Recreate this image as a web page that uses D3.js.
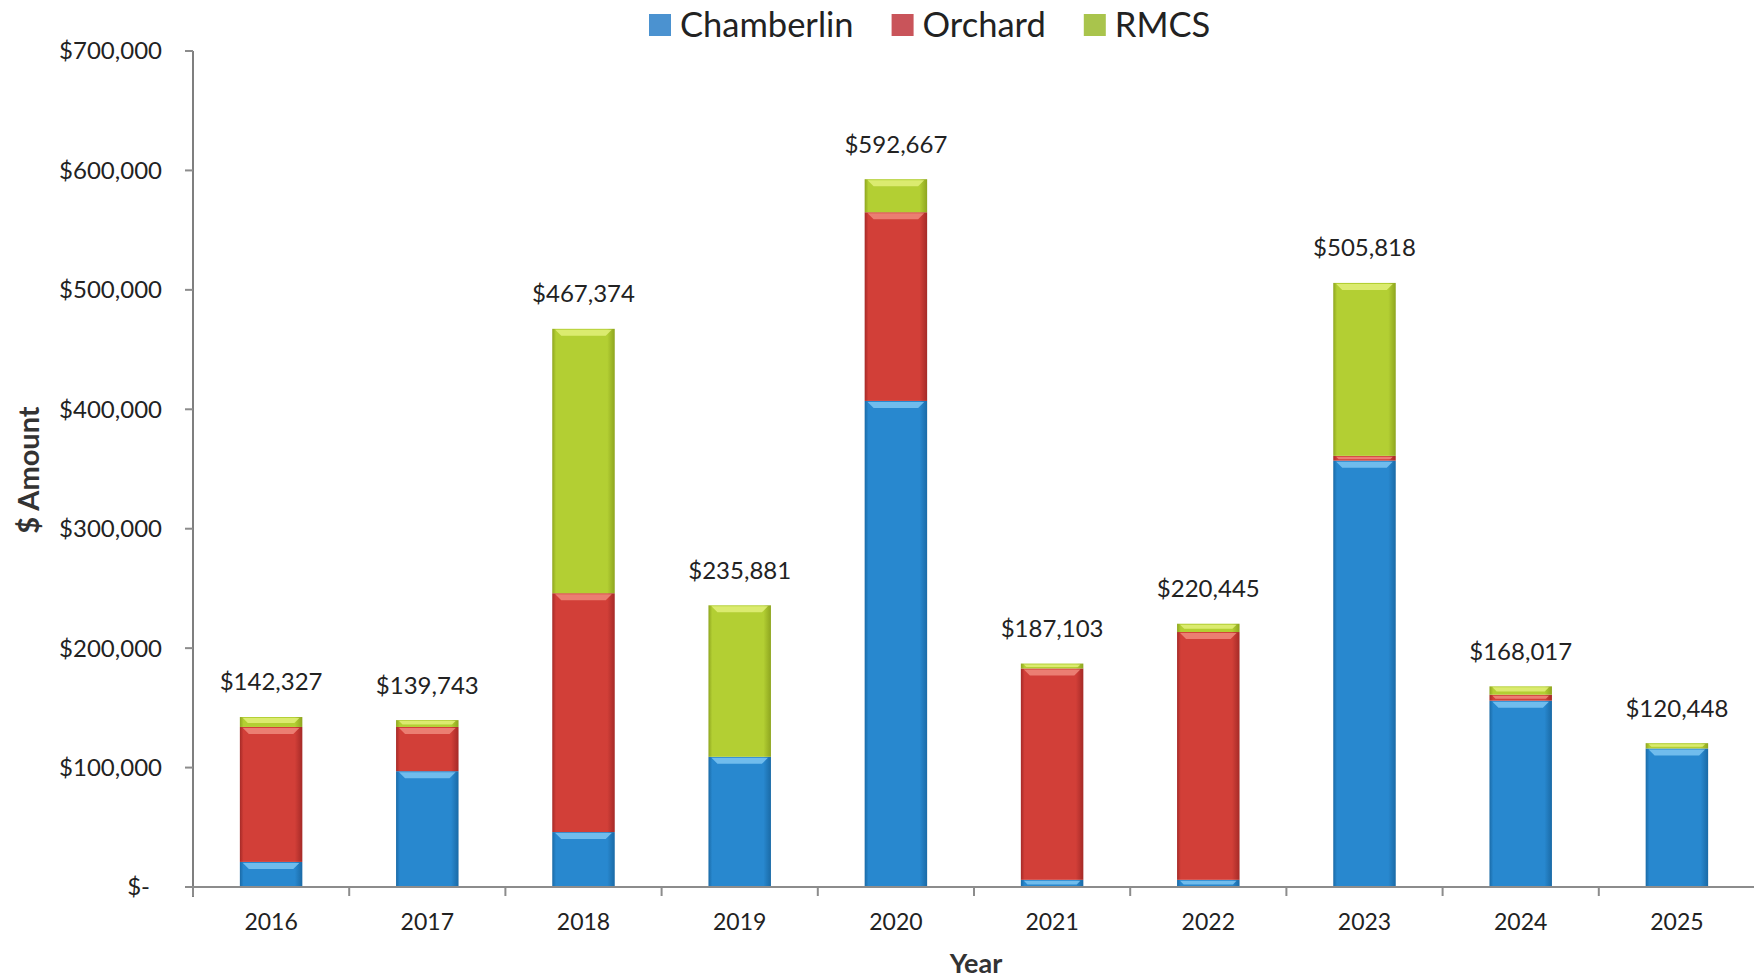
<!DOCTYPE html>
<html>
<head>
<meta charset="utf-8">
<script src="https://cdn.jsdelivr.net/npm/d3@7"></script>
<style>
    html, body { margin: 0; padding: 0; background: #ffffff; }
    svg { display: block; font-family: Lato, "Open Sans", sans-serif; }
</style>
</head>
<body>
<div id="graph"></div>
<script>
var years = ["2016", "2017", "2018", "2019", "2020", "2021", "2022", "2023", "2024", "2025"];
var chamberlin = [21000, 97000, 46000, 109000, 407000, 6000, 6000, 357000, 156000, 116000];
var orchard = [113000, 37000, 200000, 0, 158000, 177000, 207500, 4000, 5000, 0];
var rmcs = [8327, 5743, 221374, 126881, 27667, 4103, 6945, 144818, 7017, 4448];
var totals = [142327, 139743, 467374, 235881, 592667, 187103, 220445, 505818, 168017, 120448];
var yTicks = [0, 100000, 200000, 300000, 400000, 500000, 600000, 700000];

var seriesNames = ["Chamberlin", "Orchard", "RMCS"];
var seriesKeys = ["chamberlin", "orchard", "rmcs"];

var width = 1754;
var height = 979;

var barColors = {
    chamberlin: {main: "#2888cf", dark: "#1a6aa6", light: "#7cc6f2", legend: "#4b92d0"},
    orchard: {main: "#d23f38", dark: "#a52a27", light: "#f08a7c", legend: "#c9545a"},
    rmcs: {main: "#b3cf33", dark: "#8ea51f", light: "#e2f07a", legend: "#a9c44c"}
};

var table = years.map(function(yr, i) {
    return {year: yr, chamberlin: chamberlin[i], orchard: orchard[i], rmcs: rmcs[i], total: totals[i]};
});

var svg = d3.select("#graph").append("svg")
    .attr("width", width)
    .attr("height", height);

var defs = svg.append("defs");
seriesKeys.forEach(function(k) {
    var g = defs.append("linearGradient")
        .attr("id", "grad-" + k)
        .attr("x1", "0%").attr("x2", "100%")
        .attr("y1", "0%").attr("y2", "0%");
    g.append("stop").attr("offset", "0%").attr("stop-color", barColors[k].dark);
    g.append("stop").attr("offset", "6%").attr("stop-color", barColors[k].main);
    g.append("stop").attr("offset", "88%").attr("stop-color", barColors[k].main);
    g.append("stop").attr("offset", "100%").attr("stop-color", barColors[k].dark);
});

var x = d3.scaleBand()
    .domain(years)
    .range([193, 1755])
    .paddingInner(0.6)
    .paddingOuter(0.3);

var y = d3.scaleLinear()
    .domain([0, 700000])
    .range([887, 51]);

var stack = d3.stack().keys(seriesKeys);
var stacked = stack(table);

// bars
var layers = svg.append("g").attr("class", "bars")
    .selectAll("g.layer")
    .data(stacked)
    .enter()
    .append("g")
    .attr("class", "layer");

layers.selectAll("rect")
    .data(function(d) { return d.map(function(e) { e.key = d.key; return e; }); })
    .enter()
    .append("rect")
    .attr("x", function(d) { return x(d.data.year); })
    .attr("width", x.bandwidth())
    .attr("y", function(d) { return y(d[1]); })
    .attr("height", function(d) { return Math.max(0, y(d[0]) - y(d[1])); })
    .attr("fill", function(d) { return "url(#grad-" + d.key + ")"; });

// bevel highlight at the top of each segment
layers.selectAll("path.hl")
    .data(function(d) { return d.filter(function(e) { return y(e[0]) - y(e[1]) > 3; }); })
    .enter()
    .append("path")
    .attr("class", "hl")
    .attr("fill", function(d) { return barColors[d.key].light; })
    .attr("opacity", 0.85)
    .attr("d", function(d) {
        var x0 = x(d.data.year);
        var w = x.bandwidth();
        var top = y(d[1]);
        var h = Math.min(6, (y(d[0]) - top) * 0.5);
        return "M" + (x0 + 3) + "," + (top + 1) +
            "L" + (x0 + w - 3) + "," + (top + 1) +
            "L" + (x0 + w - 3 - h) + "," + (top + 1 + h) +
            "L" + (x0 + 3 + h) + "," + (top + 1 + h) + "Z";
    });

// y axis
var yAxis = svg.append("g").attr("class", "axis axis--y");
yAxis.append("line")
    .attr("x1", 193).attr("x2", 193)
    .attr("y1", y(700000)).attr("y2", y(0) + 10)
    .attr("stroke", "#7f7f7f")
    .attr("stroke-width", 2);
yAxis.selectAll("line.tick")
    .data(yTicks)
    .enter()
    .append("line")
    .attr("class", "tick")
    .attr("x1", 185).attr("x2", 193)
    .attr("y1", function(d) { return y(d); })
    .attr("y2", function(d) { return y(d); })
    .attr("stroke", "#8c8c8c")
    .attr("stroke-width", 2);
yAxis.selectAll("text")
    .data(yTicks)
    .enter()
    .append("text")
    .attr("x", function(d) { return d === 0 ? 150 : 162; })
    .attr("y", function(d) { return y(d); })
    .attr("dy", "0.35em")
    .attr("text-anchor", "end")
    .attr("font-size", 24)
    .attr("fill", "#222")
    .text(function(d) { return d === 0 ? "$-" : "$" + d3.format(",")(d); });

// x axis
var xAxis = svg.append("g").attr("class", "axis axis--x");
xAxis.append("line")
    .attr("x1", 185).attr("x2", width)
    .attr("y1", y(0)).attr("y2", y(0))
    .attr("stroke", "#8c8c8c")
    .attr("stroke-width", 2);
xAxis.selectAll("line.tick")
    .data(d3.range(years.length + 1))
    .enter()
    .append("line")
    .attr("class", "tick")
    .attr("x1", function(i) { return x.range()[0] + i * x.step(); })
    .attr("x2", function(i) { return x.range()[0] + i * x.step(); })
    .attr("y1", y(0))
    .attr("y2", y(0) + 9)
    .attr("stroke", "#8c8c8c")
    .attr("stroke-width", 2);
xAxis.selectAll("text")
    .data(years)
    .enter()
    .append("text")
    .attr("x", function(d) { return x(d) + x.bandwidth() / 2; })
    .attr("y", 922)
    .attr("dy", "0.35em")
    .attr("text-anchor", "middle")
    .attr("font-size", 23)
    .attr("fill", "#222")
    .text(function(d) { return d; });

// total labels
svg.append("g").attr("class", "totals")
    .selectAll("text")
    .data(table)
    .enter()
    .append("text")
    .attr("x", function(d) { return x(d.year) + x.bandwidth() / 2; })
    .attr("y", function(d) { return y(d.chamberlin + d.orchard + d.rmcs) - 35; })
    .attr("dy", "0.35em")
    .attr("text-anchor", "middle")
    .attr("font-size", 24)
    .attr("fill", "#222")
    .text(function(d) { return "$" + d3.format(",")(d.total); });

// axis titles
svg.append("text")
    .attr("transform", "translate(29,470) rotate(-90)")
    .attr("dy", "0.35em")
    .attr("text-anchor", "middle")
    .attr("font-size", 29)
    .attr("font-weight", "bold")
    .attr("fill", "#333")
    .text("$ Amount");

svg.append("text")
    .attr("x", 976)
    .attr("y", 964)
    .attr("dy", "0.35em")
    .attr("text-anchor", "middle")
    .attr("font-size", 27)
    .attr("font-weight", "bold")
    .attr("fill", "#333")
    .text("Year");

// legend
var legend = svg.append("g").attr("class", "legend");
var lx = 649;
seriesKeys.forEach(function(k, i) {
    var item = legend.append("g").attr("transform", "translate(" + lx + ",0)");
    item.append("rect")
        .attr("x", 0)
        .attr("y", 14)
        .attr("width", 22)
        .attr("height", 22)
        .attr("fill", barColors[k].legend);
    var t = item.append("text")
        .attr("x", 31)
        .attr("y", 25)
        .attr("dy", "0.35em")
        .attr("font-size", 34.5)
        .attr("fill", "#222")
        .text(seriesNames[i]);
    lx += 31 + t.node().getComputedTextLength() + 38;
});
</script>
</body>
</html>
